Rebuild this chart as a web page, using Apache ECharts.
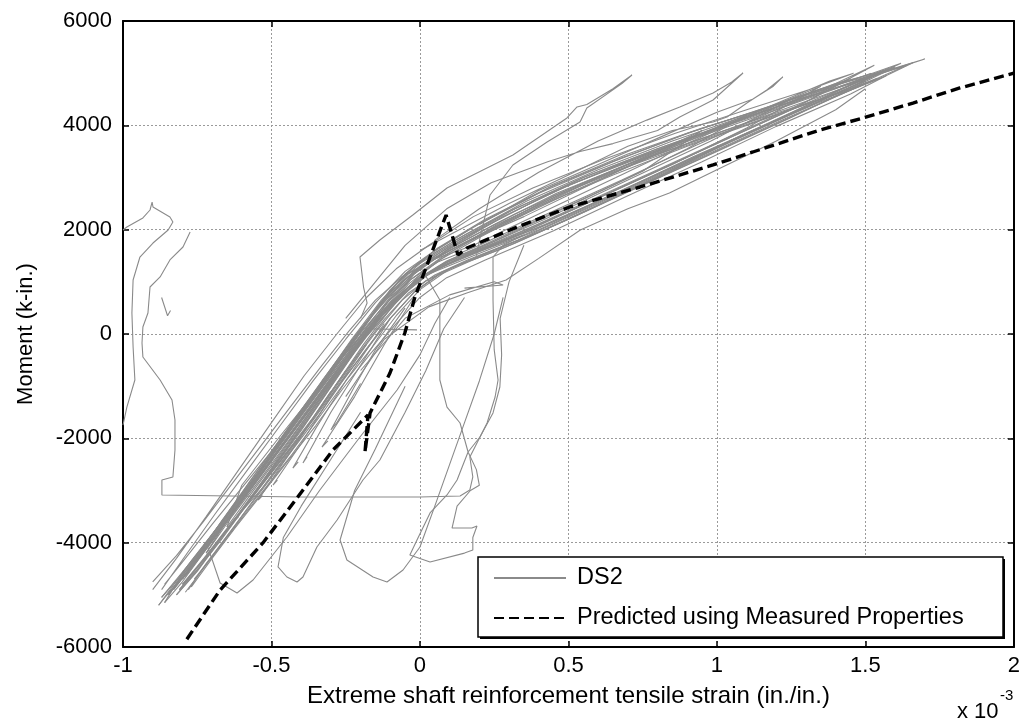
<!DOCTYPE html>
<html>
<head>
<meta charset="utf-8">
<script src="https://cdn.jsdelivr.net/npm/echarts@6/dist/echarts.min.js"></script>
<style>
html,body{margin:0;padding:0;background:#fff;}
#chart{width:1023px;height:725px;}
</style>
</head>
<body>
<div id="chart"></div>
<script>
// ---- axis setup (strain in units of 1e-3 in./in., moment in k-in.) ----
const xTicks = [-1, -0.5, 0, 0.5, 1, 1.5, 2];
const yTicks = [-6000, -4000, -2000, 0, 2000, 4000, 6000];
const xTitle = 'Extreme shaft reinforcement tensile strain (in./in.)';
const yTitle = 'Moment (k-in.)';
const seriesNames = ['DS2', 'Predicted using Measured Properties'];

const ds2Cycle1 = [[-0.55,-3000],[-0.48,-2400],[-0.38,-1600],[-0.28,-800],[-0.18,-50],[-0.08,600],[0.0,1080],[0.1,1420],[0.25,1780],[0.5,2450],[0.75,3120],[0.95,3900],
  [0.8,3500],[0.6,3000],[0.4,2450],[0.2,1900],[0.05,1450],[-0.05,1050],[-0.14,500],[-0.24,-250],[-0.35,-1100],[-0.47,-1950],[-0.6,-2900],[-0.65,-3700]];
const ds2Cycle2 = [[-0.65,-3700],[-0.58,-3150],[-0.49,-2450],[-0.39,-1650],[-0.29,-850],[-0.19,-100],[-0.1,550],[-0.01,1050],[0.09,1400],[0.22,1720],[0.4,2200],[0.65,2850],[0.9,3550],[1.1,4200],
  [0.95,3850],[0.75,3350],[0.55,2800],[0.35,2250],[0.15,1750],[0.02,1350],[-0.08,850],[-0.17,200],[-0.28,-650],[-0.4,-1550],[-0.52,-2500],[-0.63,-3400],[-0.72,-4200]];
const ds2Cycle3 = [[-0.72,-4200],[-0.64,-3550],[-0.54,-2800],[-0.43,-1950],[-0.32,-1100],[-0.22,-300],[-0.12,400],[-0.03,950],[0.07,1320],[0.2,1650],[0.42,2200],[0.7,2950],[0.98,3700],[1.25,4500],
  [1.1,4150],[0.9,3700],[0.7,3200],[0.5,2700],[0.3,2150],[0.1,1600],[-0.02,1200],[-0.12,650],[-0.22,-50],[-0.33,-900],[-0.45,-1850],[-0.57,-2800],[-0.68,-3700],[-0.78,-4500]];
const ds2Cycle4 = [[-0.78,-4500],[-0.7,-3950],[-0.6,-3200],[-0.49,-2350],[-0.37,-1450],[-0.26,-600],[-0.16,150],[-0.06,750],[0.04,1200],[0.16,1520],[0.35,1950],[0.6,2600],[0.85,3250],[1.1,3950],[1.35,4750],
  [1.2,4400],[1.0,3950],[0.78,3450],[0.55,2900],[0.32,2300],[0.12,1700],[0.0,1300],[-0.1,800],[-0.2,100],[-0.31,-750],[-0.43,-1700],[-0.55,-2650],[-0.67,-3600],[-0.8,-4700]];
const ds2Cycle5 = [[-0.8,-4700],[-0.73,-4200],[-0.63,-3450],[-0.52,-2600],[-0.41,-1750],[-0.3,-900],[-0.19,-100],[-0.09,550],[0.0,1050],[0.12,1420],[0.28,1780],[0.5,2350],[0.75,3000],[1.0,3650],[1.25,4300],[1.45,4900],
  [1.3,4550],[1.1,4150],[0.88,3700],[0.65,3200],[0.42,2650],[0.2,2000],[0.05,1500],[-0.06,1000],[-0.16,350],[-0.26,-450],[-0.38,-1400],[-0.5,-2350],[-0.62,-3300],[-0.73,-4150],[-0.83,-4900]];
const ds2Cycle6 = [[-0.83,-4900],[-0.76,-4400],[-0.66,-3650],[-0.55,-2800],[-0.44,-1950],[-0.33,-1100],[-0.22,-250],[-0.12,450],[-0.02,1000],[0.1,1400],[0.3,1850],[0.55,2500],[0.8,3150],[1.05,3800],[1.3,4450],[1.53,5150],
  [1.4,4800],[1.2,4350],[0.98,3900],[0.75,3400],[0.5,2850],[0.28,2250],[0.1,1700],[-0.03,1250],[-0.13,650],[-0.23,-100],[-0.34,-1000],[-0.46,-1950],[-0.58,-2950],[-0.7,-3900],[-0.85,-5000]];
const ds2Cycle7 = [[-0.85,-5000],[-0.78,-4550],[-0.68,-3800],[-0.57,-2950],[-0.46,-2100],[-0.35,-1250],[-0.24,-400],[-0.14,300],[-0.04,900],[0.07,1300],[0.22,1650],[0.45,2150],[0.7,2800],[0.95,3450],[1.2,4100],[1.42,4700],[1.58,5100],
  [1.45,4800],[1.25,4450],[1.02,4000],[0.8,3550],[0.55,3000],[0.3,2350],[0.12,1800],[-0.01,1350],[-0.1,850],[-0.19,150],[-0.3,-700],[-0.42,-1650],[-0.55,-2700],[-0.68,-3700],[-0.79,-4500],[-0.86,-5150]];
const ds2Cycle8 = [[-0.86,-5150],[-0.8,-4750],[-0.71,-4050],[-0.6,-3200],[-0.49,-2350],[-0.38,-1500],[-0.27,-650],[-0.17,100],[-0.07,700],[0.03,1150],[0.18,1500],[0.4,2000],[0.65,2650],[0.9,3300],[1.15,3950],[1.4,4600],[1.62,5190],
  [1.5,4950],[1.3,4600],[1.08,4150],[0.85,3700],[0.6,3150],[0.36,2550],[0.15,1900],[0.02,1450],[-0.08,950],[-0.17,300],[-0.27,-500],[-0.39,-1450],[-0.51,-2400],[-0.64,-3400],[-0.77,-4350],[-0.88,-5200]];
const ds2Cycle9 = [[-0.88,-5200],[-0.83,-4850],[-0.74,-4200],[-0.63,-3350],[-0.52,-2500],[-0.41,-1650],[-0.3,-800],[-0.2,-50],[-0.1,600],[0.0,1100],[0.14,1450],[0.35,1900],[0.6,2550],[0.85,3200],[1.1,3850],[1.35,4450],[1.55,4900],[1.66,5200],
  [1.55,5000],[1.35,4700],[1.12,4250],[0.9,3850],[0.65,3300],[0.4,2700],[0.18,2050],[0.04,1550],[-0.06,1100],[-0.15,450],[-0.25,-350],[-0.37,-1300],[-0.49,-2250],[-0.62,-3250],[-0.74,-4150],[-0.84,-4950]];
const ds2Cycle10 = [[-0.84,-4950],[-0.77,-4450],[-0.67,-3700],[-0.56,-2850],[-0.45,-2000],[-0.34,-1150],[-0.23,-300],[-0.13,400],[-0.03,950],[0.08,1350],[0.25,1750],[0.5,2350],[0.75,3000],[1.0,3650],[1.25,4300],[1.5,4900],[1.7,5270],
  [1.6,5100],[1.4,4800],[1.18,4350],[0.95,3950],[0.7,3450],[0.45,2850],[0.22,2200],[0.06,1650],[-0.05,1150],[-0.14,550],[-0.24,-250],[-0.36,-1200],[-0.48,-2150],[-0.61,-3150],[-0.74,-4150],[-0.87,-5050]];
const ds2Cycle11 = [[-0.87,-5050],[-0.8,-4600],[-0.7,-3850],[-0.59,-3000],[-0.48,-2150],[-0.37,-1300],[-0.26,-450],[-0.16,250],[-0.06,800],[0.04,1200],[0.2,1580],[0.42,2100],[0.68,2750],[0.92,3400],[1.18,4050],[1.4,4600],[1.55,5000],
  [1.42,4700],[1.22,4300],[1.0,3850],[0.78,3400],[0.54,2850],[0.3,2200],[0.1,1600],[-0.04,1150],[-0.13,600],[-0.22,-100],[-0.33,-950],[-0.45,-1900],[-0.57,-2850],[-0.68,-3700],[-0.8,-4600]];
const ds2Cycle12 = [[-0.79,-4950],[-0.73,-4500],[-0.66,-3950],[-0.58,-3350],[-0.5,-2750],[-0.42,-2150],[-0.34,-1550],[-0.26,-900],[-0.18,-280],[-0.1,300],[-0.02,800],[0.06,1120],[0.17,1400],[0.32,1740],[0.55,2330],[0.8,3000],[1.05,3700],[1.3,4350],[1.5,4850],
  [1.35,4500],[1.15,4100],[0.9,3600],[0.65,3050],[0.4,2450],[0.2,1850],[0.06,1400],[-0.04,950],[-0.13,350],[-0.22,-350],[-0.31,-1100],[-0.4,-1850],[-0.49,-2550],[-0.58,-3250],[-0.67,-3950],[-0.76,-4600],[-0.82,-5000]];
const ds2Cycle13 = [[-0.82,-5000],[-0.75,-4550],[-0.68,-4000],[-0.6,-3400],[-0.52,-2800],[-0.44,-2200],[-0.36,-1600],[-0.28,-950],[-0.2,-320],[-0.12,280],[-0.04,780],[0.05,1130],[0.16,1420],[0.33,1800],[0.58,2450],[0.83,3100],[1.08,3800],[1.33,4450],[1.56,5050],
  [1.4,4700],[1.2,4300],[0.95,3800],[0.7,3250],[0.45,2650],[0.24,2000],[0.08,1500],[-0.03,1050],[-0.12,450],[-0.21,-250],[-0.3,-1000],[-0.39,-1750],[-0.48,-2450],[-0.57,-3150],[-0.66,-3850],[-0.74,-4450],[-0.81,-4900]];
const ds2Cycle14 = [[-0.81,-4900],[-0.74,-4400],[-0.66,-3800],[-0.57,-3150],[-0.48,-2500],[-0.39,-1850],[-0.3,-1150],[-0.22,-500],[-0.14,100],[-0.06,650],[0.02,1020],[0.12,1300],[0.27,1620],[0.5,2200],[0.75,2850],[1.0,3500],[1.25,4150],[1.45,4700],[1.6,5120],
  [1.45,4820],[1.25,4420],[1.0,3930],[0.75,3420],[0.5,2850],[0.28,2250],[0.1,1650],[-0.02,1150],[-0.11,550],[-0.2,-150],[-0.29,-900],[-0.38,-1650],[-0.47,-2350],[-0.56,-3050],[-0.65,-3750],[-0.73,-4350],[-0.8,-4800]];
const ds2Cycle15 = [[-0.8,-4800],[-0.72,-4250],[-0.63,-3600],[-0.54,-2950],[-0.45,-2300],[-0.36,-1650],[-0.27,-950],[-0.18,-300],[-0.1,300],[-0.02,800],[0.07,1180],[0.2,1500],[0.4,1950],[0.65,2600],[0.9,3250],[1.15,3900],[1.4,4550],[1.64,5150],
  [1.5,4900],[1.28,4500],[1.05,4050],[0.8,3550],[0.55,3000],[0.32,2400],[0.13,1800],[0.0,1300],[-0.09,750],[-0.18,50],[-0.27,-700],[-0.36,-1450],[-0.45,-2200],[-0.54,-2900],[-0.63,-3600],[-0.71,-4200],[-0.79,-4750]];
const ds2Cycle16 = [[-0.77,-4850],[-0.7,-4300],[-0.62,-3700],[-0.53,-3050],[-0.44,-2400],[-0.35,-1750],[-0.26,-1050],[-0.17,-400],[-0.08,200],[0.0,700],[0.09,1080],[0.22,1420],[0.45,1980],[0.7,2650],[0.95,3300],[1.2,3980],[1.45,4600],[1.57,4950],
  [1.43,4650],[1.22,4250],[0.98,3780],[0.72,3250],[0.48,2700],[0.26,2100],[0.1,1560],[-0.01,1080],[-0.1,480],[-0.19,-200],[-0.28,-950],[-0.37,-1700],[-0.46,-2400],[-0.55,-3100],[-0.64,-3800],[-0.72,-4400],[-0.78,-4900]];
const ds2Cycle17 = [[-0.86,-4800],[-0.79,-4300],[-0.7,-3650],[-0.6,-2950],[-0.5,-2250],[-0.4,-1500],[-0.3,-750],[-0.21,-50],[-0.12,550],[-0.03,1050],[0.06,1380],[0.2,1700],[0.42,2280],[0.68,2950],[0.93,3620],[1.18,4250],[1.42,4800],[1.52,5000],
  [1.38,4720],[1.16,4330],[0.92,3880],[0.68,3380],[0.44,2820],[0.22,2180],[0.06,1640],[-0.05,1200],[-0.15,600],[-0.25,-100],[-0.36,-900],[-0.47,-1750],[-0.58,-2600],[-0.69,-3450],[-0.79,-4250],[-0.87,-4900]];
const ds2Cycle18 = [[-0.76,-4700],[-0.69,-4200],[-0.61,-3600],[-0.52,-2950],[-0.43,-2300],[-0.34,-1600],[-0.25,-900],[-0.16,-250],[-0.08,350],[0.0,850],[0.1,1250],[0.25,1600],[0.48,2150],[0.72,2800],[0.97,3450],[1.22,4100],[1.48,4750],[1.54,4900],
  [1.4,4600],[1.18,4200],[0.95,3750],[0.7,3250],[0.46,2700],[0.25,2100],[0.09,1600],[-0.02,1150],[-0.11,600],[-0.2,-80],[-0.3,-850],[-0.4,-1650],[-0.5,-2400],[-0.6,-3200],[-0.7,-3950],[-0.79,-4650]];
const ds2Cycle19 = [[-0.9,-4750],[-0.82,-4250],[-0.73,-3600],[-0.63,-2850],[-0.53,-2100],[-0.43,-1350],[-0.33,-600],[-0.24,50],[-0.15,650],[-0.06,1100],[0.04,1420],[0.18,1700],[0.4,2300],[0.66,3000],[0.9,3650],[1.15,4300],[1.38,4850],[1.46,5000],
  [1.32,4700],[1.1,4300],[0.86,3850],[0.62,3350],[0.38,2800],[0.18,2250],[0.03,1700],[-0.08,1250],[-0.18,700],[-0.28,0],[-0.39,-800],[-0.5,-1700],[-0.61,-2600],[-0.72,-3500],[-0.82,-4300],[-0.9,-4900]];
// short reversals along the lower-right edge of the band
const ds2Tail1 = [[-0.05,500],[-0.15,-300],[-0.22,-1000],[-0.3,-1840],[-0.28,-1700],[-0.2,-950]];
const ds2Tail2 = [[-0.02,700],[-0.12,-200],[-0.22,-1200],[-0.33,-2166],[-0.31,-2050]];
const ds2Tail3 = [[-0.1,300],[-0.2,-600],[-0.3,-1500],[-0.394,-2473],[-0.38,-2350]];
const ds2Tail4 = [[-0.12,200],[-0.25,-900],[-0.35,-1800],[-0.428,-2569],[-0.41,-2450]];
const ds2Tail5 = [[-0.18,-200],[-0.3,-1200],[-0.4,-2100],[-0.495,-2895],[-0.48,-2800]];
const ds2Tail6 = [[-0.25,-700],[-0.38,-1800],[-0.47,-2550],[-0.545,-3182],[-0.53,-3100]];
const ds2Tail7 = [[-0.3,-1100],[-0.43,-2200],[-0.53,-2950],[-0.633,-3604],[-0.61,-3500]];
const ds2Tail8 = [[-0.3,-700],[-0.18,100],[-0.01,80]];
const ds2Low1 = [[-0.25,-1200],[-0.12,-100],[0.03,520],[0.16,790],[0.29,1035],[0.4,1450],[0.54,1994],[0.7,2400],[0.84,2703],[1.0,3150],[1.2,3700],[1.4,4300],[1.5,4700]];
const ds2Low2 = [[-0.2,-700],[-0.05,300],[0.1,750],[0.25,1000],[0.28,940],[0.15,880]];
// loops above the band
const ds2Upper1 = [[-0.2,300],[-0.178,594],[-0.19,900],[-0.202,1476],[-0.135,1802],[-0.024,2281],[0.091,2799],[0.313,3431],[0.495,4141],[0.529,4352],[0.562,4400],[0.65,4700],[0.714,4965],
  [0.68,4800],[0.562,4333],[0.539,4064],[0.428,3681],[0.313,3240],[0.236,2665],[0.202,1840],[0.19,1500]];
const ds2Upper2 = [[-0.25,300],[-0.15,1000],[-0.05,1700],[0.09,2400],[0.24,2900],[0.43,3300],[0.539,3500],[0.65,3650],[0.8,3900],[0.875,4160],[0.987,4486],[1.088,5003],
  [1.05,4830],[0.987,4620],[0.875,4350],[0.764,4100],[0.6,3700],[0.4,3100],[0.2,2400],[0.05,1800]];
const ds2Upper3 = [[0.0,1600],[0.3,2500],[0.5,3050],[0.7,3600],[0.85,3900],[0.987,4064],[1.034,4160],[1.101,4428],[1.168,4678],[1.222,4927],
  [1.19,4750],[1.12,4500],[1.0,4250],[0.8,3750],[0.6,3250],[0.4,2750],[0.2,2100]];
// wandering loops (left edge and lower middle)
const ds2Left = [[-1.0,-1745],[-0.987,-1400],[-0.96,-882],[-0.966,-249],[-0.97,403],[-0.966,1035],[-0.943,1476],[-0.899,1744],[-0.848,1994],[-0.832,2147],[-0.842,2243],[-0.899,2435],[-0.902,2530],[-0.909,2377],[-0.933,2224],[-0.987,2051],[-1.0,1994]];
const ds2Wander1 = [[0.35,1900],[0.28,1700],[0.246,1476],[0.246,652],[0.25,-300],[0.263,-882],[0.253,-1208],[0.226,-1706],[0.192,-2090],[0.168,-2358],[0.178,-2741],[0.168,-2990],[0.135,-3105],[0.0,-3125],[-0.404,-3125],[-0.869,-3086],[-0.869,-2799],[-0.832,-2741],[-0.825,-2224],[-0.825,-1649],[-0.835,-1265],[-0.875,-882],[-0.933,-441],[-0.936,-173],[-0.933,134],[-0.916,403],[-0.909,901],[-0.875,1093],[-0.842,1419],[-0.798,1668],[-0.774,1955]];
const ds2Wander2 = [[-0.87,700],[-0.85,350],[-0.84,450]];
const ds2Wander3 = [[-0.72,-4000],[-0.697,-4371],[-0.673,-4773],[-0.616,-4965],[-0.562,-4716],[-0.448,-3892],[-0.337,-2990],[-0.202,-1975],[-0.077,-1074],[0.0,-400],[0.05,200],[0.1,700]];
const ds2Wander4 = [[-0.2,-1500],[-0.3,-2400],[-0.4,-3300],[-0.46,-3900],[-0.478,-4466],[-0.448,-4658],[-0.414,-4754],[-0.394,-4658],[-0.347,-4083],[-0.279,-3566],[-0.192,-2799],[-0.135,-2415],[-0.05,-1500],[0.02,-700],[0.08,100],[0.15,700]];
const ds2Wander5 = [[-0.05,-1000],[-0.15,-2200],[-0.22,-3000],[-0.269,-3949],[-0.246,-4332],[-0.158,-4658],[-0.111,-4754],[-0.057,-4524],[0.0,-4083],[0.05,-3300],[0.1,-2500],[0.15,-1700],[0.2,-900],[0.25,0],[0.28,700]];
const ds2Wander6 = [[0.0,1300],[0.067,652],[0.067,-200],[0.067,-882],[0.091,-1400],[0.135,-1706],[0.162,-2262],[0.19,-2600],[0.2,-2900],[0.17,-3000],[0.125,-3300],[0.108,-3719],[0.175,-3719],[0.192,-3680],[0.178,-3900],[0.178,-4141],[0.15,-4200],[0.034,-4371],[-0.034,-4237],[-0.01,-3949],[0.034,-3431],[0.091,-3086],[0.125,-2799],[0.162,-2262],[0.202,-1975],[0.246,-1514],[0.269,-1016],[0.275,-400],[0.27,300],[0.3,1000],[0.35,1700]];

const ds2Paths = [ds2Cycle1, ds2Cycle2, ds2Cycle3, ds2Cycle4, ds2Cycle5, ds2Cycle6, ds2Cycle7, ds2Cycle8, ds2Cycle9, ds2Cycle10, ds2Cycle11,
  ds2Cycle12, ds2Cycle13, ds2Cycle14, ds2Cycle15, ds2Cycle16, ds2Cycle17, ds2Cycle18, ds2Cycle19,
  ds2Tail1, ds2Tail2, ds2Tail3, ds2Tail4, ds2Tail5, ds2Tail6, ds2Tail7, ds2Tail8, ds2Low1, ds2Low2,
  ds2Upper1, ds2Upper2, ds2Upper3, ds2Left, ds2Wander1, ds2Wander2, ds2Wander3, ds2Wander4, ds2Wander5, ds2Wander6];

// ---- predicted response (dashed) ----
const predStrain = [-0.785,-0.673,-0.529,-0.414,-0.293,-0.175,-0.185,-0.168,-0.101,-0.051,-0.017,0.034,0.088,0.128,0.158,0.327,0.505,0.741,0.987,1.121,1.347,1.492,1.66,1.818,2.0];
const predMoment = [-5850,-4907,-4006,-3144,-2224,-1553,-2262,-1514,-748,19,709,1476,2281,1514,1649,2051,2435,2818,3240,3489,3911,4141,4428,4716,5000];

const FONT = 'Liberation Sans, Arial, sans-serif';
const chart = echarts.init(document.getElementById('chart'));

const series = ds2Paths.map(p => ({
  type: 'line', name: seriesNames[0], data: p,
  symbol: 'none', symbolSize: 0, showSymbol: false, silent: true, animation: false,
  lineStyle: { color: '#8a8a8a', width: 1.1 }, itemStyle: { color: '#8a8a8a' }
}));
series.push({
  type: 'line', name: seriesNames[1],
  data: predStrain.map((x, i) => [x, predMoment[i]]),
  symbol: 'none', symbolSize: 0, showSymbol: false, silent: true, animation: false, z: 5,
  lineStyle: { color: '#000', width: 3.4, type: [10, 5] }, itemStyle: { color: '#000' }
});

const axisLineStyle = { show: true, onZero: false, lineStyle: { color: '#000', width: 2 } };
const tickStyle = { show: true, inside: true, length: 6, lineStyle: { color: '#000', width: 1.5 } };
const labelStyle = { color: '#000', fontSize: 22, fontFamily: FONT };
const gridLine = { show: true, lineStyle: { color: '#9a9a9a', width: 1, type: [2, 2] } };

chart.setOption({
  backgroundColor: '#fff',
  animation: false,
  grid: { left: 123, right: 9, top: 21, bottom: 78, containLabel: false },
  xAxis: [{
    type: 'value', min: xTicks[0], max: xTicks[xTicks.length-1], interval: 0.5,
    position: 'bottom',
    name: xTitle, nameLocation: 'middle', nameGap: 37,
    nameTextStyle: { color: '#000', fontSize: 24, fontFamily: FONT },
    axisLine: axisLineStyle, axisTick: tickStyle,
    axisLabel: Object.assign({ margin: 8, formatter: v => String(v) }, labelStyle),
    splitLine: gridLine
  }, {
    type: 'value', min: xTicks[0], max: xTicks[xTicks.length-1], interval: 0.5,
    position: 'top',
    axisLine: axisLineStyle, axisTick: tickStyle,
    axisLabel: { show: false }, splitLine: { show: false }
  }],
  yAxis: [{
    type: 'value', min: yTicks[0], max: yTicks[yTicks.length-1], interval: 2000,
    position: 'left',
    name: yTitle, nameLocation: 'middle', nameGap: 86, nameRotate: 90,
    nameTextStyle: { color: '#000', fontSize: 22, fontFamily: FONT },
    axisLine: axisLineStyle, axisTick: tickStyle,
    axisLabel: Object.assign({ margin: 11, formatter: v => String(v) }, labelStyle),
    splitLine: gridLine
  }, {
    type: 'value', min: yTicks[0], max: yTicks[yTicks.length-1], interval: 2000,
    position: 'right',
    axisLine: axisLineStyle, axisTick: tickStyle,
    axisLabel: { show: false }, splitLine: { show: false }
  }],
  legend: {
    data: seriesNames,
    orient: 'vertical', left: 478, top: 557,
    itemWidth: 72, itemHeight: 14, itemGap: 16,
    padding: [9, 14, 7, 15],
    backgroundColor: '#fff', borderColor: '#000', borderWidth: 1.5,
    itemStyle: { opacity: 0 },
    textStyle: { color: '#000', fontSize: 23.5, fontFamily: FONT, lineHeight: 24, padding: [0, 0, 0, 6], width: 412 },
    selectedMode: false, z: 10
  },
  graphic: [
    { type: 'rect', z: 9, silent: true, shape: { x: 480, y: 559, width: 525, height: 80 }, style: { fill: '#000' } },
    { type: 'text', left: 957, top: 701, style: { text: 'x 10', fill: '#000', font: '22px ' + FONT } },
    { type: 'text', left: 1000, top: 688, style: { text: '-3', fill: '#000', font: '15px ' + FONT } }
  ],
  series: series
});
</script>
</body>
</html>
